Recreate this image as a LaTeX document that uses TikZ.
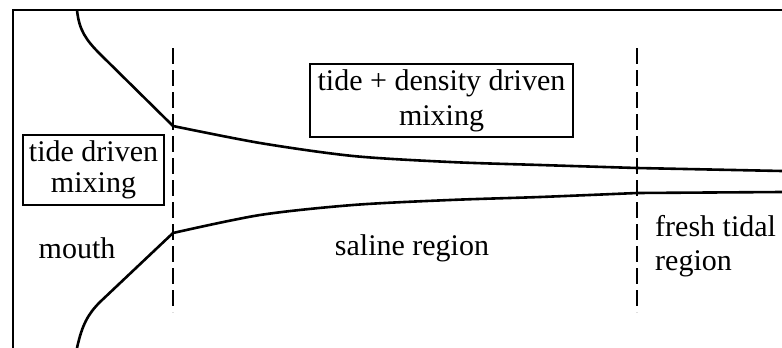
\documentclass[tikz,border=0pt]{standalone}
\usepackage{fontspec}
\setmainfont{Liberation Serif}
\begin{document}
\begin{tikzpicture}[x=1pt,y=-1pt,
  line/.style={line width=2.6pt},
  divider/.style={line width=2.6pt, dash pattern=on 16pt off 6pt},
  boxlabel/.style={draw, line width=2.4pt, align=center, inner sep=0pt, font=\fontsize{30}{31}\selectfont},
  plain/.style={align=left, inner sep=0pt, font=\fontsize{30}{34}\selectfont}]
\useasboundingbox (0,0) rectangle (782,348);
% frame
\draw[line] (13,348) -- (13,10) -- (782,10);
% upper bank
\draw[line] (77,10) .. controls (79,30) and (86,40) .. (100,54) -- (173,126)
  plot[smooth] coordinates {(173,126)(260,143)(353,156)(450,162)(540,165)(637,168)} -- (782,171);
% lower bank
\draw[line] (77,348) .. controls (82,325) and (88,314) .. (100,302) -- (173,233)
  plot[smooth] coordinates {(173,233)(260,215)(353,205)(450,200)(540,197)(637,193)} -- (782,192);
% dividers
\coordinate (d1t) at (173,48); \coordinate (d1b) at (173,312);
\coordinate (d2t) at (637,48); \coordinate (d2b) at (637,312);
\draw[divider] (d1t) -- (d1b);
\draw[divider] (d2t) -- (d2b);
% boxes
\node[boxlabel, minimum width=141pt, minimum height=70pt] (b1) at (93.5,170) {tide driven\\mixing};
\node[boxlabel, minimum width=263pt, minimum height=73pt] (b2) at (441.5,100.5) {tide + density driven\\[4pt]mixing};
% labels
\node[plain] (mouth) at (77,248) {mouth};
\node[plain] (saline) at (412,248) {saline region};
\node[plain, anchor=west] (fresh) at (655,246) {fresh tidal\\region};
\end{tikzpicture}
\end{document}
